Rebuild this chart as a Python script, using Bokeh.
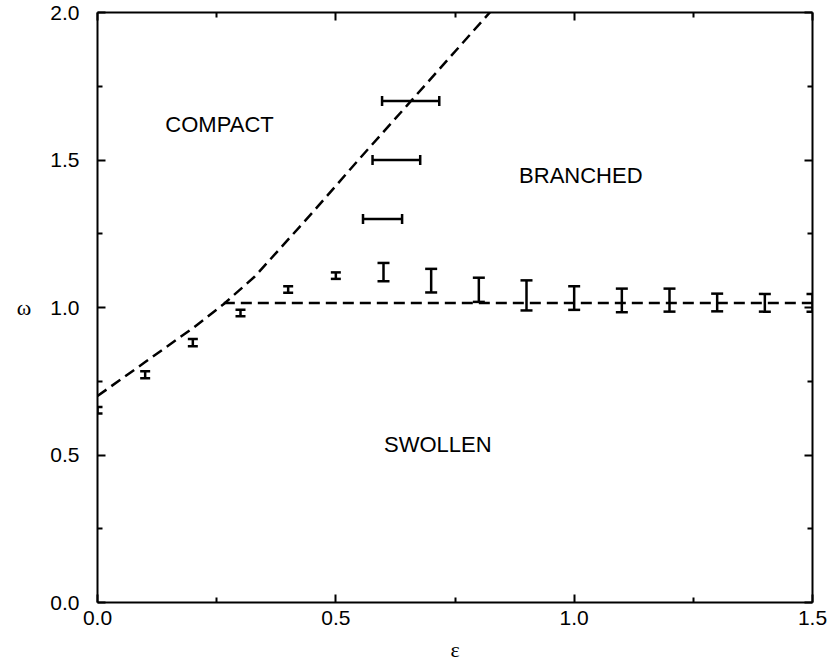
from bokeh.plotting import figure
from bokeh.models import (ColumnDataSource, Whisker, TeeHead, Label, LinearAxis,
                          FixedTicker, CustomJSTickFormatter, NumeralTickFormatter, Range1d)
from bokeh.embed import file_html
from bokeh.resources import INLINE

# ---- data ----
x_ticks = [0.0, 0.5, 1.0, 1.5]
x_minor = [0.25, 0.75, 1.25]
y_ticks = [0.0, 0.5, 1.0, 1.5, 2.0]
y_minor = [0.25, 0.75, 1.25, 1.75]

# vertical error bars (omega at fixed epsilon)
eps_small = [0.0, 0.1, 0.2, 0.3, 0.4, 0.5]
omega_small = [0.652, 0.772, 0.881, 0.981, 1.061, 1.108]
err_small = [0.011, 0.012, 0.012, 0.011, 0.011, 0.011]

eps_big = [0.6, 0.7, 0.8, 0.9, 1.0, 1.1, 1.2, 1.3, 1.4, 1.5]
omega_big = [1.120, 1.091, 1.060, 1.041, 1.032, 1.024, 1.025, 1.017, 1.016, 1.016]
err_big = [0.031, 0.040, 0.041, 0.051, 0.040, 0.040, 0.039, 0.030, 0.030, 0.030]

# horizontal error bars (epsilon at fixed omega)
omega_h = [1.3, 1.5, 1.7]
eps_h = [0.598, 0.627, 0.657]
err_h = [0.041, 0.050, 0.060]

# phase boundaries
upper_eps = [0.0, 0.1, 0.2, 0.265, 0.33, 0.45, 0.55, 0.65, 0.83]
upper_omega = [0.70, 0.815, 0.93, 1.012, 1.105, 1.32, 1.505, 1.686, 2.013]
lower_eps = [0.265, 1.5]
lower_omega = [1.015, 1.015]

region_names = ["COMPACT", "BRANCHED", "SWOLLEN"]
region_x = [0.256, 1.014, 0.714]
region_y = [1.62, 1.447, 0.535]

# ---- figure ----
p = figure(frame_width=715, frame_height=590,
           min_border_left=97, min_border_right=16, min_border_top=12, min_border_bottom=58,
           x_range=Range1d(0, 1.5), y_range=Range1d(0, 2.0),
           output_backend="svg", toolbar_location=None)
p.grid.visible = False
p.outline_line_color = None
p.background_fill_color = "white"
p.border_fill_color = "white"

def style_axis(ax, ticks, minor, labels=True):
    ax.ticker = FixedTicker(ticks=ticks, minor_ticks=minor)
    ax.axis_line_width = 2
    ax.axis_line_color = "black"
    ax.major_tick_in = 8
    ax.major_tick_out = 0
    ax.minor_tick_in = 5
    ax.minor_tick_out = 0
    ax.major_tick_line_width = 2
    ax.minor_tick_line_width = 2
    ax.major_tick_line_color = "black"
    ax.minor_tick_line_color = "black"
    if labels:
        ax.formatter = NumeralTickFormatter(format="0.0")
        ax.major_label_text_font = "Liberation Sans"
        ax.major_label_text_font_size = "21px"
        ax.major_label_text_color = "black"
    else:
        ax.formatter = CustomJSTickFormatter(code="return ''")
        ax.major_label_standoff = 0

xa = p.xaxis[0]
style_axis(xa, x_ticks, x_minor)
xa.major_label_standoff = 8
xa.axis_label = "ε"
xa.axis_label_text_font = "Liberation Serif"
xa.axis_label_text_font_size = "22px"
xa.axis_label_text_font_style = "normal"
xa.axis_label_text_color = "black"
xa.axis_label_standoff = 9

ya = p.yaxis[0]
style_axis(ya, y_ticks, y_minor)
ya.major_label_standoff = 18
ya.axis_label = "ω"
ya.axis_label_orientation = "horizontal"
ya.axis_label_text_font = "Liberation Serif"
ya.axis_label_text_font_size = "22px"
ya.axis_label_text_font_style = "normal"
ya.axis_label_text_color = "black"
ya.axis_label_standoff = 16

top = LinearAxis()
style_axis(top, x_ticks, x_minor, labels=False)
p.add_layout(top, "above")
right = LinearAxis()
style_axis(right, y_ticks, y_minor, labels=False)
p.add_layout(right, "right")

# ---- phase boundaries ----
p.line(upper_eps, upper_omega, line_color="black", line_width=2.5, line_dash="11 6")
p.line(lower_eps, lower_omega, line_color="black", line_width=2.5, line_dash="11 6")

# ---- error bars ----
def vbars(xs, ys, es, cap):
    src = ColumnDataSource(dict(x=xs, up=[y + e for y, e in zip(ys, es)],
                                lo=[y - e for y, e in zip(ys, es)]))
    w = Whisker(source=src, base="x", upper="up", lower="lo", dimension="height",
                line_width=2.5, line_color="black",
                upper_head=TeeHead(size=cap, line_width=2.5, line_color="black"),
                lower_head=TeeHead(size=cap, line_width=2.5, line_color="black"))
    p.add_layout(w)

vbars(eps_small, omega_small, err_small, 10)
vbars(eps_big, omega_big, err_big, 12)

src_h = ColumnDataSource(dict(y=omega_h, up=[x + e for x, e in zip(eps_h, err_h)],
                              lo=[x - e for x, e in zip(eps_h, err_h)]))
p.add_layout(Whisker(source=src_h, base="y", upper="up", lower="lo", dimension="width",
                     line_width=2.5, line_color="black",
                     upper_head=TeeHead(size=10, line_width=2.5, line_color="black"),
                     lower_head=TeeHead(size=10, line_width=2.5, line_color="black")))

# ---- region labels ----
for name, rx, ry in zip(region_names, region_x, region_y):
    p.add_layout(Label(x=rx, y=ry, text=name, text_align="center", text_baseline="middle",
                       text_font="Liberation Sans", text_font_size="22px", text_color="black"))

open("out.html", "w").write(file_html(p, INLINE))
